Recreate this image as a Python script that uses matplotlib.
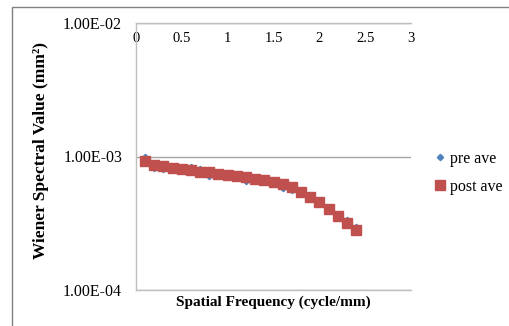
import matplotlib.pyplot as plt
from matplotlib.patches import Rectangle

# spatial frequency (cycle/mm)
freq = [0.1, 0.2, 0.3, 0.4, 0.5, 0.6, 0.7, 0.8, 0.9, 1.0, 1.1, 1.2,
        1.3, 1.4, 1.5, 1.6, 1.7, 1.8, 1.9, 2.0, 2.1, 2.2, 2.3, 2.4]

# Wiener spectral values (mm^2)
post_ave = [9.22e-4, 8.71e-4, 8.46e-4, 8.22e-4, 8.09e-4, 7.89e-4, 7.68e-4, 7.59e-4,
            7.38e-4, 7.25e-4, 7.13e-4, 7.00e-4, 6.81e-4, 6.69e-4, 6.42e-4, 6.17e-4,
            5.93e-4, 5.41e-4, 4.96e-4, 4.55e-4, 4.01e-4, 3.61e-4, 3.15e-4, 2.81e-4]
pre_ave = [9.95e-4, 8.25e-4, 8.00e-4, 8.20e-4, 8.10e-4, 8.30e-4, 8.10e-4, 7.15e-4,
           7.40e-4, 7.20e-4, 7.10e-4, 6.60e-4, 6.80e-4, 6.70e-4, 6.40e-4, 5.85e-4,
           5.62e-4, 5.40e-4, 4.95e-4, 4.55e-4, 4.00e-4, 3.60e-4, 3.33e-4, 2.97e-4]

x_ticks = [0, 0.5, 1, 1.5, 2, 2.5, 3]
x_tick_labels = ['0', '0.5', '1', '1.5', '2', '2.5', '3']
y_ticks = [1e-4, 1e-3, 1e-2]
y_tick_labels = ['1.00E-04', '1.00E-03', '1.00E-02']

plt.rcParams['font.family'] = ['Liberation Serif', 'DejaVu Serif']

fig = plt.figure(figsize=(5.1, 3.26), dpi=100)

# outer chart frame (cut off at right and bottom like the source)
fig.patches.append(Rectangle((12 / 510, -0.1), 1.2, 1 - 7 / 326 + 0.1,
                             transform=fig.transFigure, fill=False,
                             edgecolor='#808080', linewidth=1.0))

ax = fig.add_axes([136 / 510, 1 - 290 / 326, 275 / 510, 267 / 326])

ax.plot(freq, pre_ave, linestyle='none', marker='D', markersize=3.2,
        color='#4F81BD', label='pre ave', zorder=2)
ax.plot(freq, post_ave, linestyle='none', marker='s', markersize=6.8,
        color='#C0504D', label='post ave', zorder=3)

ax.set_yscale('log')
ax.set_ylim(1e-4, 1e-2)
ax.set_xlim(0, 3)

ax.set_yticks(y_ticks)
ax.set_yticklabels(y_tick_labels)
ax.yaxis.set_minor_locator(plt.NullLocator())
ax.set_xticks(x_ticks)
ax.set_xticklabels(x_tick_labels)

ax.tick_params(axis='x', top=False, bottom=False, labeltop=True, labelbottom=False,
               pad=-19, labelsize=10.5)
ax.tick_params(axis='y', length=0, pad=10, labelsize=11.5)

ax.grid(axis='y', which='major', color='#A6A6A6', linewidth=1.0)
ax.set_axisbelow(True)

for side in ['left', 'top', 'bottom']:
    ax.spines[side].set_color('#BFBFBF')
    ax.spines[side].set_linewidth(1.0)
ax.spines['right'].set_visible(False)

ax.set_xlabel('Spatial Frequency (cycle/mm)', fontsize=11, fontweight='bold', labelpad=4)
ax.set_ylabel('Wiener Spectral Value (mm²)', fontsize=12.5, fontweight='bold')
ax.yaxis.set_label_coords(-0.315, 0.524)

ax.legend(loc='center left', bbox_to_anchor=(1.065, 0.44), frameon=False,
          fontsize=11.5, handlelength=0.6, handletextpad=0.3, labelspacing=0.75,
          borderaxespad=0)

plt.savefig('out.png', dpi=100)
